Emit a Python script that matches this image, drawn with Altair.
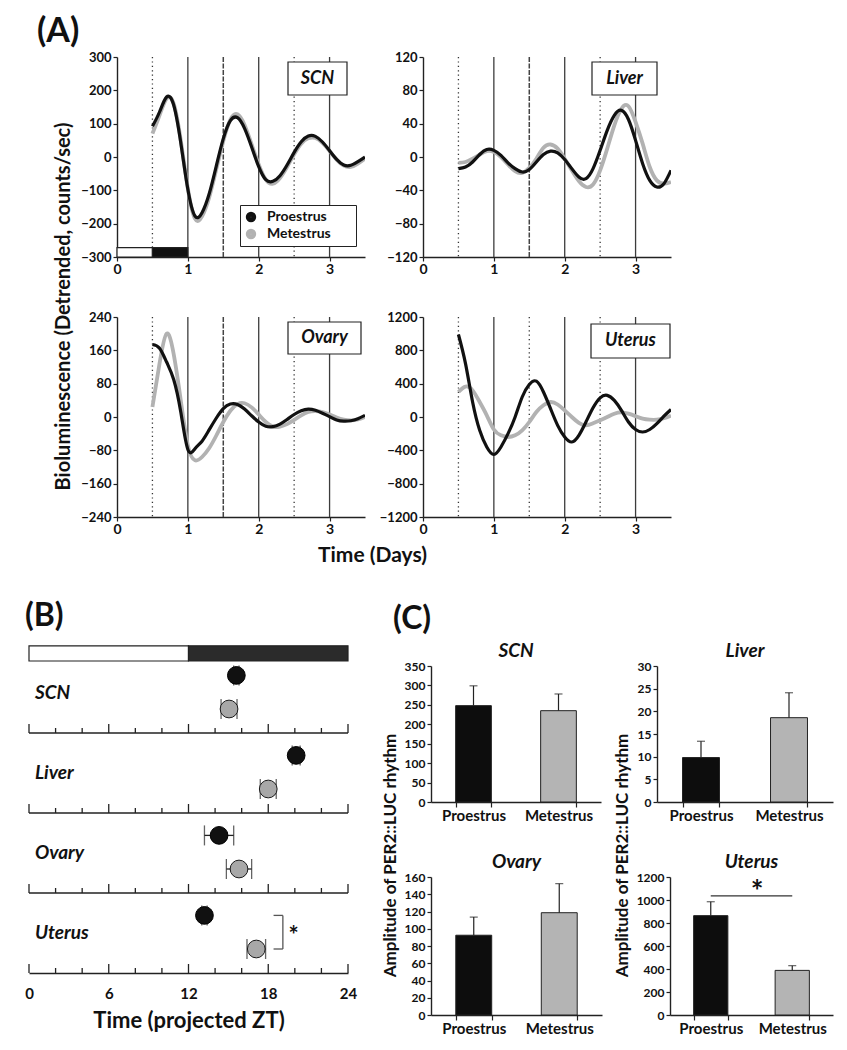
import altair as alt
import pandas as pd

FONT = "Lato"
INK = "#111111"
EDGE = "#222222"
LINE_GREY = "#b2b2b2"
DOT_GREY = "#a8a8a8"
BAR_GREY = "#b4b4b4"
DARK_PHASE = "#2b2b2b"
NBSP = "\u00a0"
ZWSP = "\u200b"

# ---------------- Panel A data (bioluminescence traces) ----------------
DAYS = [0.5, 0.6, 0.7, 0.8, 0.9, 1.0, 1.1, 1.2, 1.3, 1.4, 1.5, 1.6, 1.7, 1.8, 1.9,
        2.0, 2.1, 2.2, 2.3, 2.4, 2.5, 2.6, 2.7, 2.8, 2.9, 3.0, 3.1, 3.2, 3.3, 3.4, 3.5]
SERIES = ["Proestrus", "Metestrus"]

SCN_PRO = [92, 135, 180, 156, 43, -97, -177, -167, -111, -28, 55, 109, 118, 86, 30,
           -29, -68, -73, -56, -24, 14, 46, 63, 62, 45, 19, -7, -24, -25, -14, 0]
SCN_MET = [70, 125, 175, 160, 50, -95, -185, -178, -122, -38, 48, 112, 128, 96, 38,
           -22, -68, -80, -63, -30, 8, 40, 56, 57, 42, 18, -8, -26, -30, -20, -5]
LIVER_PRO = [-14, -12, -6, 3, 9, 8, 2, -7, -14, -18, -15, -6, 3, 7, 5,
             -3, -14, -24, -26, -14, 8, 32, 50, 56, 45, 20, -8, -28, -36, -32, -16]
LIVER_MET = [-7, -6, -2, 3, 7, 6, 0, -9, -17, -19, -13, -2, 11, 15, 10,
             -2, -16, -29, -36, -33, -16, 10, 38, 58, 61, 42, 16, -12, -28, -32, -30]
OVARY_PRO = [174, 165, 132, 90, 12, -78, -76, -58, -31, -3, 20, 31, 30, 19, 3,
             -12, -22, -23, -17, -6, 6, 15, 19, 16, 9, 1, -7, -10, -9, -4, 4]
OVARY_MET = [24, 128, 200, 151, 40, -68, -104, -96, -75, -45, -12, 15, 31, 33, 23,
             6, -12, -23, -23, -17, -7, 4, 12, 14, 12, 6, -1, -6, -8, -6, 0]
UTERUS_PRO = [990, 640, 180, -160, -360, -450, -360, -200, 0, 240, 390, 430, 300, 100, -100,
              -240, -300, -220, -60, 110, 230, 260, 200, 80, -60, -150, -180, -150, -80, 10, 90]
UTERUS_MET = [300, 365, 320, 180, 20, -150, -220, -240, -220, -160, -60, 60, 140, 180, 150,
              80, 0, -70, -100, -75, -40, 0, 40, 56, 40, 10, -20, -32, -32, -15, 15]

A_Y_MAX = {"SCN": 300, "Liver": 120, "Ovary": 240, "Uterus": 1200}
A_Y_STEP = {"SCN": 100, "Liver": 40, "Ovary": 80, "Uterus": 400}
A_X_TICKS = [0, 1, 2, 3]
SOLID_DAYS = [1, 2, 3]
DOTTED_DAYS = [0.5, 2.5]
MID_DAYS = [1.5]
LD_A_START = [0, 0.5]
LD_A_END = [0.5, 1.0]
LD_A_PHASE = ["light", "dark"]

# ---------------- Panel B data (phases) ----------------
ZT_TICKS = [0, 6, 12, 18, 24]
HOUR_TICKS = [0, 2, 4, 6, 8, 10, 12, 14, 16, 18, 20, 22, 24]
B_TISSUES = ["SCN", "Liver", "Ovary", "Uterus"]
B_PRO = [15.6, 20.1, 14.3, 13.2]
B_PRO_ERR = [0.2, 0.3, 1.1, 0.2]
B_MET = [15.05, 18.0, 15.8, 17.1]
B_MET_ERR = [0.6, 0.6, 0.95, 0.7]
LD_B_START = [0, 12]
LD_B_END = [12, 24]
LD_B_PHASE = ["light", "dark"]

# ---------------- Panel C data (amplitudes) ----------------
C_TISSUES = ["SCN", "Liver", "Ovary", "Uterus"]
C_PRO = [248, 9.8, 92.5, 864]
C_PRO_ERR = [51, 3.6, 21, 121]
C_MET = [235, 18.6, 118.6, 388]
C_MET_ERR = [43, 5.5, 33.7, 41]
C_Y_MAX = [350, 30, 160, 1200]
C_Y_STEP = [50, 5, 20, 200]

# ---------------- layout constants ----------------
B_PRO_OFF, B_MET_OFF, B_LAB_OFF = 0.28, 0.7, 0.5
BR_X0, BR_X1, STAR_ZT = 18.4, 19.1, 19.9
SIG_Y, STAR_Y = 1035, 1060

LEGEND = alt.Legend(orient="none", legendX=211, legendY=148, title=None, direction="vertical",
                    symbolType="circle", symbolSize=24, symbolStrokeWidth=5.5,
                    labelFontSize=14, labelFontWeight="bold", labelFont=FONT, labelColor=INK,
                    labelOffset=9, strokeColor=EDGE, fillColor="white", padding=4, rowPadding=1,
                    clipHeight=16, labelExpr="datum.label + '" + NBSP * 6 + ZWSP + "'")


def ax_y(values, size, title=None, tx=0, ty=0, tsize=19):
    kw = dict(values=values, format="d", labelFontSize=size, tickSize=4, labelPadding=2, domainWidth=1.4,
              tickWidth=1.2, labelFlush=False, labelOverlap=False)
    if title:
        kw.update(title=title, titleFontSize=tsize, titleX=tx, titleY=ty, titleAngle=270,
                  titleBaseline="middle", titleAlign="center")
    else:
        kw["title"] = None
    return alt.Axis(**kw)


def panel_a(name, pro, met, box, mid_dotted=False, ld=False, ytitle=False, xtitle=False):
    ymax, ystep = A_Y_MAX[name], A_Y_STEP[name]
    xs = alt.Scale(domain=[0, 3.5], nice=False, zero=False)
    ys = alt.Scale(domain=[-ymax, ymax], nice=False, zero=False)
    xkw = dict(values=A_X_TICKS, format="d", labelFontSize=14, tickSize=4, labelPadding=1,
               domainWidth=1.4, tickWidth=1.2, labelFlush=False)
    if xtitle:
        xkw.update(title="Time (Days)", titleFontSize=21, titleX=255, titleY=38,
                   titleBaseline="middle", titleAlign="center", titleAngle=0)
    else:
        xkw["title"] = None
    xa = alt.Axis(**xkw)
    ya = ax_y(list(range(-ymax, ymax + 1, ystep)), 13,
              "Bioluminescence (Detrended, counts/sec)" if ytitle else None, -54, 249, 20)

    def X(f):
        return alt.X(f, type="quantitative", scale=xs, axis=xa)

    def Y(f):
        return alt.Y(f, type="quantitative", scale=ys, axis=ya)

    layers = []
    layers.append(alt.Chart(pd.DataFrame({"t": SOLID_DAYS})).mark_rule(
        color="#3c3c3c", strokeWidth=1.3).encode(x=X("t")))
    dots = DOTTED_DAYS + (MID_DAYS if mid_dotted else [])
    layers.append(alt.Chart(pd.DataFrame({"t": dots})).mark_rule(
        color="#333333", strokeWidth=1.3, strokeDash=[1.2, 3.2]).encode(x=X("t")))
    if not mid_dotted:
        layers.append(alt.Chart(pd.DataFrame({"t": MID_DAYS})).mark_rule(
            color="#444444", strokeWidth=1.5, strokeDash=[5, 1.5]).encode(x=X("t")))
    if ld:
        df_ld = pd.DataFrame({"start": LD_A_START, "end": LD_A_END, "phase": LD_A_PHASE})
        layers.append(alt.Chart(df_ld).mark_rect(stroke=EDGE, strokeWidth=1.2).encode(
            x=X("start"), x2="end:Q",
            y=alt.YDatum(-272, scale=ys, axis=ya), y2=alt.datum(-ymax),
            fill=alt.condition("datum.phase == 'dark'", alt.value(INK), alt.value("white"))))

    n = len(DAYS)
    df_pro = pd.DataFrame({"t": DAYS, "v": pro, "series": [SERIES[0]] * n})
    df_met = pd.DataFrame({"t": DAYS, "v": met, "series": [SERIES[1]] * n})
    color = alt.Color("series:N", scale=alt.Scale(domain=SERIES, range=[INK, LINE_GREY]), legend=LEGEND)
    for df, w in [(df_met, 3.8), (df_pro, 3.2)]:
        layers.append(alt.Chart(df).mark_line(strokeWidth=w, interpolate="natural", clip=True).encode(
            x=X("t"), y=Y("v"), color=color))

    bx1, bx2, by1, by2 = box
    lab = pd.DataFrame({"label": [name]})
    layers.append(alt.Chart(lab).mark_rect(fill="white", stroke=EDGE, strokeWidth=1.2).encode(
        x=alt.value(bx1), x2=alt.value(bx2), y=alt.value(by1), y2=alt.value(by2)))
    layers.append(alt.Chart(lab).mark_text(font=FONT, fontSize=18, fontStyle="italic",
                                           fontWeight="bold", color=INK).encode(
        x=alt.value((bx1 + bx2) / 2), y=alt.value((by1 + by2) / 2), text="label:N"))
    return alt.layer(*layers).properties(width=248, height=200)


def panel_b():
    W, H = 319, 307
    xs = alt.Scale(domain=[0, 24], nice=False, zero=False)
    ys = alt.Scale(domain=[-0.1, 4], range=[-21, 307], nice=False, zero=False)
    xa = alt.Axis(values=ZT_TICKS, format="d", labelFontSize=15, tickSize=0, labelPadding=13,
                  domainWidth=1.6, labelFlush=False, title="Time (projected ZT)", titleFontSize=22,
                  titleY=47, titleX=W / 2, titleBaseline="middle", titleAlign="center")

    def X(f):
        return alt.X(f, type="quantitative", scale=xs, axis=xa)

    def Y(f):
        return alt.Y(f, type="quantitative", scale=ys, axis=None)

    layers = []
    ld = pd.DataFrame({"start": LD_B_START, "end": LD_B_END, "phase": LD_B_PHASE})
    layers.append(alt.Chart(ld).mark_rect(stroke=EDGE, strokeWidth=1.2).encode(
        x=X("start"), x2="end:Q",
        y=alt.YDatum(-0.09, scale=ys, axis=None), y2=alt.datum(0.1),
        fill=alt.condition("datum.phase == 'dark'", alt.value(DARK_PHASE), alt.value("white"))))
    layers.append(alt.Chart(pd.DataFrame({"u": [1, 2, 3]})).mark_rule(
        color=EDGE, strokeWidth=1.6).encode(y=Y("u")))
    tk = pd.DataFrame([{"h": h, "u": u} for u in [1, 2, 3, 4] for h in HOUR_TICKS])
    major = tk[tk.h.isin(ZT_TICKS)]
    minor = tk[~tk.h.isin(ZT_TICKS)]
    layers.append(alt.Chart(major).mark_rule(color=EDGE, strokeWidth=1.3, y2Offset=-9).encode(
        x=X("h"), y=Y("u"), y2="u:Q"))
    layers.append(alt.Chart(minor).mark_rule(color=EDGE, strokeWidth=1.3, y2Offset=-5).encode(
        x=X("h"), y=Y("u"), y2="u:Q"))

    rows = []
    for i, tis in enumerate(B_TISSUES):
        rows.append(dict(tissue=tis, series=SERIES[0], zt=B_PRO[i], err=B_PRO_ERR[i], ypos=i + B_PRO_OFF))
        rows.append(dict(tissue=tis, series=SERIES[1], zt=B_MET[i], err=B_MET_ERR[i], ypos=i + B_MET_OFF))
    df_b = pd.DataFrame(rows)
    df_b["lo"] = df_b.zt - df_b.err
    df_b["hi"] = df_b.zt + df_b.err
    layers.append(alt.Chart(df_b).mark_rule(color=EDGE, strokeWidth=1.3).encode(
        x=X("lo"), x2="hi:Q", y=Y("ypos")))
    for f in ["lo", "hi"]:
        layers.append(alt.Chart(df_b).mark_tick(orient="vertical", size=20, thickness=1.3, color=EDGE).encode(
            x=X(f), y=Y("ypos")))
    layers.append(alt.Chart(df_b[df_b.series == SERIES[0]]).mark_circle(
        size=314, fill=INK, stroke="#000000", strokeWidth=1, opacity=1).encode(x=X("zt"), y=Y("ypos")))
    layers.append(alt.Chart(df_b[df_b.series == SERIES[1]]).mark_circle(
        size=314, fill=DOT_GREY, stroke="#1a1a1a", strokeWidth=1, opacity=1).encode(x=X("zt"), y=Y("ypos")))

    labs = pd.DataFrame({"tissue": B_TISSUES, "ylab": [i + B_LAB_OFF for i in range(len(B_TISSUES))]})
    layers.append(alt.Chart(labs).mark_text(align="left", dx=6, font=FONT, fontSize=19, fontStyle="italic",
                                            fontWeight="bold", color=INK).encode(
        x=alt.XDatum(0, scale=xs, axis=xa), y=Y("ylab"), text="tissue:N"))

    br = pd.DataFrame({"x0": [BR_X0], "x1": [BR_X1], "ya": [3 + B_PRO_OFF], "yb": [3 + B_MET_OFF]})
    layers.append(alt.Chart(br).mark_rule(color="#555555", strokeWidth=1.3).encode(
        x=X("x1"), y=Y("ya"), y2="yb:Q"))
    layers.append(alt.Chart(br).mark_rule(color="#555555", strokeWidth=1.3).encode(
        x=X("x0"), x2="x1:Q", y=Y("ya")))
    layers.append(alt.Chart(br).mark_rule(color="#555555", strokeWidth=1.3).encode(
        x=X("x0"), x2="x1:Q", y=Y("yb")))
    layers.append(alt.Chart(br).mark_text(text="*", font=FONT, fontSize=24, fontWeight="bold", color=INK).encode(
        x=alt.XDatum(STAR_ZT, scale=xs, axis=xa), y=alt.YDatum(3.55, scale=ys, axis=None)))

    title = alt.TitleParams("(B)", anchor="start", frame="group", dx=-4, offset=12, fontSize=32,
                            font=FONT, fontWeight="bold", color=INK)
    return alt.layer(*layers).properties(width=W, height=H, title=title)


def panel_c(i, width, height, ytitle_x=None, sig=False):
    name = C_TISSUES[i]
    df = pd.DataFrame({"group": SERIES, "amp": [C_PRO[i], C_MET[i]], "err": [C_PRO_ERR[i], C_MET_ERR[i]]})
    df["top"] = df.amp + df.err
    xs = alt.Scale(domain=SERIES, paddingInner=0.58, paddingOuter=0.29)
    xa = alt.Axis(title=None, labelAngle=0, labelFontSize=15, tickBand="extent", tickSize=5,
                  labelPadding=1, domainWidth=1.4, tickWidth=1.2)
    ymax = C_Y_MAX[i]
    ys = alt.Scale(domain=[0, ymax], nice=False, zero=True)
    ya = ax_y(list(range(0, ymax + 1, C_Y_STEP[i])), 12,
              "Amplitude of PER2::LUC rhythm" if ytitle_x is not None else None,
              ytitle_x if ytitle_x is not None else 0, 189, 17)
    X = alt.X("group:N", scale=xs, axis=xa, sort=SERIES)
    layers = [
        alt.Chart(df).mark_bar(stroke=EDGE, strokeWidth=1).encode(
            x=X, y=alt.Y("amp:Q", scale=ys, axis=ya),
            fill=alt.condition("datum.group == 'Proestrus'", alt.value("#0d0d0d"), alt.value(BAR_GREY))),
        alt.Chart(df).mark_rule(color=EDGE, strokeWidth=1.2).encode(
            x=X, y=alt.Y("amp:Q", scale=ys, axis=ya), y2="top:Q"),
        alt.Chart(df).mark_tick(orient="horizontal", size=8, thickness=1.2, color=EDGE).encode(
            x=X, y=alt.Y("top:Q", scale=ys, axis=ya)),
    ]
    if sig:
        ds = pd.DataFrame({"a": [SERIES[0]], "b": [SERIES[1]]})
        layers.append(alt.Chart(ds).mark_rule(color="#333333", strokeWidth=1.2).encode(
            x=alt.X("a:N", scale=xs, axis=xa, sort=SERIES, bandPosition=0.5),
            x2=alt.X2("b:N", bandPosition=0.5),
            y=alt.YDatum(SIG_Y, scale=ys, axis=ya)))
        layers.append(alt.Chart(ds).mark_text(text="*", font=FONT, fontSize=30, fontWeight="bold", color=INK).encode(
            x=alt.value(87), y=alt.YDatum(STAR_Y, scale=ys, axis=ya)))
    title = alt.TitleParams(name, fontSize=19, fontStyle="italic", fontWeight="bold", font=FONT,
                            offset=5, dy=6, anchor="middle", color=INK)
    return alt.layer(*layers).properties(width=width, height=height, title=title)


def spacer(w, h, title=None):
    c = alt.Chart(pd.DataFrame({"s": [0]})).mark_point(opacity=0).properties(width=w, height=h)
    if title is not None:
        c = c.properties(title=title)
    return c


scn = panel_a("SCN", SCN_PRO, SCN_MET, (171, 230, 5, 38), ld=True, ytitle=True)
liver = panel_a("Liver", LIVER_PRO, LIVER_MET, (169, 234, 5, 38))
ovary = panel_a("Ovary", OVARY_PRO, OVARY_MET, (171, 244, 5, 37), xtitle=True)
uterus = panel_a("Uterus", UTERUS_PRO, UTERUS_MET, (168, 247, 7, 41), mid_dotted=True)

a_title = alt.TitleParams("(A)", anchor="start", frame="group", dx=8, offset=8, fontSize=34,
                          font=FONT, fontWeight="bold", color=INK)
A_grid = alt.concat(spacer(30, 200, a_title), scn, liver, spacer(30, 200), ovary, uterus,
                    columns=3, spacing={"row": 60, "column": 58}, align="each", bounds="flush")

c_scn = panel_c(0, 170, 136, ytitle_x=-41)
c_liver = panel_c(1, 176, 136, ytitle_x=-35)
c_ovary = panel_c(2, 171, 138)
c_uterus = panel_c(3, 163, 138, sig=True)
c_title = alt.TitleParams("(C)", anchor="start", frame="group", dx=-38, offset=6, fontSize=32,
                          font=FONT, fontWeight="bold", color=INK)
C_row1 = alt.hconcat(c_scn, c_liver, spacing=56, bounds="flush")
C_row2 = alt.hconcat(c_ovary, c_uterus, spacing=68, bounds="flush")
C_grid = alt.vconcat(C_row1, C_row2, spacing=211, bounds="flush", title=c_title)

BC = alt.hconcat(panel_b(), C_grid, spacing=83, bounds="flush")

chart = alt.vconcat(A_grid, BC, spacing=609, bounds="flush",
                    padding={"left": 16, "top": 7, "right": 4, "bottom": 4}).configure_view(
    stroke="transparent").configure_axis(
    labelFont=FONT, titleFont=FONT, labelFontWeight="bold", titleFontWeight="bold",
    labelColor=INK, titleColor=INK, domainColor=EDGE, tickColor=EDGE, grid=False).configure_legend(
    labelFont=FONT).configure_title(font=FONT, color=INK)

chart.save("out.html", embed_options={"renderer": "svg", "actions": False})
